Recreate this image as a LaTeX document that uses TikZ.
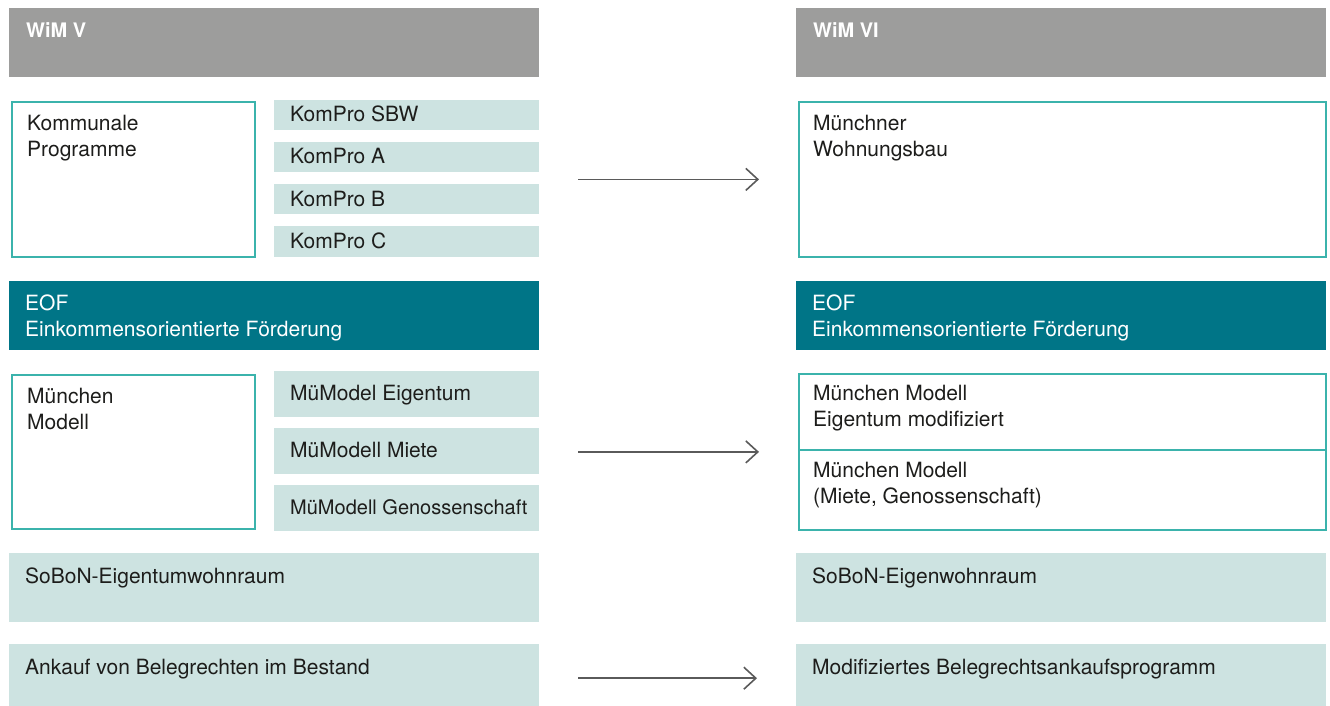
\documentclass[tikz,border=0pt]{standalone}
\usepackage{fontspec}
\setmainfont{TeX Gyre Heros}
\usepackage{tikz}
\usetikzlibrary{arrows.meta,calc}
\definecolor{wimgray}{HTML}{9D9D9C}
\definecolor{eofteal}{HTML}{007587}
\definecolor{paleteal}{HTML}{CDE3E1}
\definecolor{lineteal}{HTML}{3BB3AC}
\definecolor{arrowgray}{HTML}{5A5A5A}
\definecolor{textdark}{HTML}{1D1D1B}
\tikzstyle{headbar}=[rectangle, fill=wimgray, anchor=north west, inner sep=0pt,
                      minimum width=530pt, minimum height=69pt]
\tikzstyle{eofbar} =[rectangle, fill=eofteal, anchor=north west, inner sep=0pt,
                      minimum width=530pt, minimum height=69pt]
\tikzstyle{openbox}=[rectangle, draw=lineteal, line width=1.8pt, fill=white,
                      anchor=north west, inner sep=0pt]
\tikzstyle{palebox}=[rectangle, fill=paleteal, anchor=north west, inner sep=0pt]
\tikzstyle{txt}    =[anchor=base west, inner sep=0pt, align=left, text=textdark,
                      font=\fontsize{21}{26}\selectfont]
\tikzstyle{arr}    =[-{Straight Barb[length=12pt,width=22pt]}, line width=1.6pt,
                      draw=arrowgray, shorten <=39pt, shorten >=39pt]

\begin{document}
\begin{tikzpicture}[x=1pt, y=-1pt]
  \useasboundingbox (0,0) rectangle (1330,706);

  % ── WiM V (left column) ────────────────────────────────────────────────────
  \node[headbar] (headL) at (9,8) {};
  \node[txt, text=white, font=\fontsize{20}{26}\selectfont\bfseries] (headL-t)
       at ($(headL.north west)+(17,30)$) {WiM V};

  \node[openbox, minimum width=243pt, minimum height=155pt] (kom) at (11,101) {};
  \node[txt] (kom-t) at ($(kom.north west)+(16,56)$) {Kommunale\\Programme};
  \node[palebox, minimum width=265pt, minimum height=30pt] (kp1) at (274,100) {};
  \node[palebox, minimum width=265pt, minimum height=30pt] (kp2) at (274,142) {};
  \node[palebox, minimum width=265pt, minimum height=30pt] (kp3) at (274,184) {};
  \node[palebox, minimum width=265pt, minimum height=31pt] (kp4) at (274,226) {};
  \node[txt] (kp1-t) at ($(kp1.north west)+(16,22)$) {KomPro SBW};
  \node[txt] (kp2-t) at ($(kp2.north west)+(16,22)$) {KomPro A};
  \node[txt] (kp3-t) at ($(kp3.north west)+(16,22)$) {KomPro B};
  \node[txt] (kp4-t) at ($(kp4.north west)+(16,22)$) {KomPro C};

  \node[eofbar] (eofL) at (9,281) {};
  \node[txt, text=white] (eofL-t) at ($(eofL.north west)+(16,55)$)
       {EOF\\Einkommensorientierte Förderung};

  \node[openbox, minimum width=243pt, minimum height=154pt] (mm) at (11,374) {};
  \node[txt] (mm-t) at ($(mm.north west)+(16,55)$) {München\\Modell};
  \node[palebox, minimum width=265pt, minimum height=46pt] (mu1) at (274,371) {};
  \node[palebox, minimum width=265pt, minimum height=46pt] (mu2) at (274,428) {};
  \node[palebox, minimum width=265pt, minimum height=46pt] (mu3) at (274,485) {};
  \node[txt] (mu1-t) at ($(mu1.north west)+(16,29)$) {MüModel Eigentum};
  \node[txt] (mu2-t) at ($(mu2.north west)+(16,29)$) {MüModell Miete};
  \node[txt, font=\fontsize{20}{26}\selectfont] (mu3-t)
       at ($(mu3.north west)+(16,29)$) {MüModell Genossenschaft};

  \node[palebox, minimum width=530pt, minimum height=69pt] (sobL) at (9,553) {};
  \node[txt] (sobL-t) at ($(sobL.north west)+(16,30)$) {SoBoN-Eigentumwohnraum};
  \node[palebox, minimum width=530pt, minimum height=62pt] (ankL) at (9,644) {};
  \node[txt] (ankL-t) at ($(ankL.north west)+(16,30)$) {Ankauf von Belegrechten im Bestand};

  % ── WiM VI (right column) ──────────────────────────────────────────────────
  \node[headbar] (headR) at (796,8) {};
  \node[txt, text=white, font=\fontsize{20}{26}\selectfont\bfseries] (headR-t)
       at ($(headR.north west)+(17,30)$) {WiM VI};

  \node[openbox, minimum width=527pt, minimum height=155pt] (wohn) at (798,101) {};
  \node[txt] (wohn-t) at ($(wohn.north west)+(15,56)$) {Münchner\\Wohnungsbau};

  \node[eofbar] (eofR) at (796,281) {};
  \node[txt, text=white] (eofR-t) at ($(eofR.north west)+(16,55)$)
       {EOF\\Einkommensorientierte Förderung};

  \node[openbox, minimum width=527pt, minimum height=76pt] (mme) at (798,373) {};
  \node[openbox, minimum width=527pt, minimum height=80pt] (mmm) at (798,449) {};
  \node[txt] (mme-t) at ($(mme.north west)+(15,53)$) {München Modell\\Eigentum modifiziert};
  \node[txt] (mmm-t) at ($(mmm.north west)+(15,54)$) {München Modell\\(Miete, Genossenschaft)};

  \node[palebox, minimum width=530pt, minimum height=69pt] (sobR) at (796,553) {};
  \node[txt] (sobR-t) at ($(sobR.north west)+(16,30)$) {SoBoN-Eigenwohnraum};
  \node[palebox, minimum width=530pt, minimum height=62pt] (belR) at (796,644) {};
  \node[txt] (belR-t) at ($(belR.north west)+(16,30)$) {Modifiziertes Belegrechtsankaufsprogramm};

  % ── transitions ────────────────────────────────────────────────────────────
  \draw[arr] (wohn.west -| kp4.east) -- (wohn.west);
  \coordinate (mmmid) at ($(mme.north west)!0.5!(mmm.south west)$);
  \draw[arr] (mmmid -| mu3.east) -- (mmmid);
  \draw[arr] ([yshift=-3pt]ankL.east) -- ([yshift=-3pt]belR.west);

\end{tikzpicture}
\end{document}
